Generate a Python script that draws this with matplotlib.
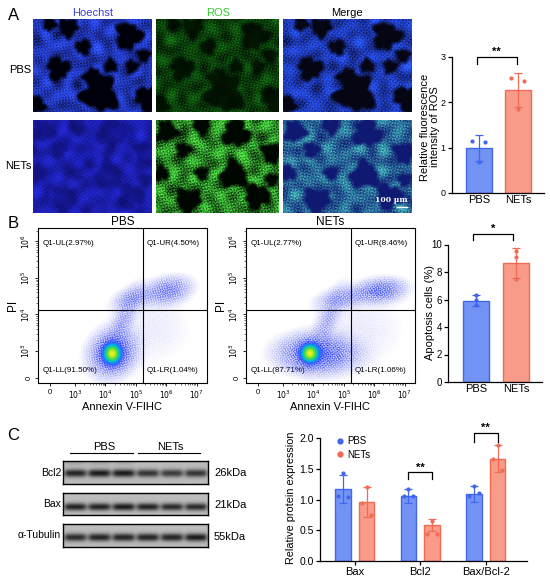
import numpy as np
import matplotlib
matplotlib.use("Agg")
import matplotlib.pyplot as plt
from matplotlib.colors import LinearSegmentedColormap
from matplotlib.lines import Line2D

plt.rcParams['font.family'] = ['Liberation Sans', 'DejaVu Sans']

W, H = 550, 584

# ---------------- data ----------------
GROUPS = ['PBS', 'NETs']

ros_mean = [1.0, 2.27]
ros_sd = [0.29, 0.38]
ros_points = [[1.15, 1.13, 0.68], [2.54, 2.47, 1.85]]

apop_mean = [5.9, 8.65]
apop_sd = [0.4, 1.12]
apop_points = [[6.33, 5.96, 5.6], [9.5, 9.1, 7.5]]

prot_groups = ['Bax', 'Bcl2', 'Bax/Bcl-2']
prot_pbs_mean = [1.17, 1.06, 1.09]
prot_pbs_sd = [0.23, 0.11, 0.13]
prot_pbs_points = [[1.43, 1.05, 1.04], [1.17, 1.05, 1.06], [1.22, 1.06, 1.10]]
prot_nets_mean = [0.96, 0.58, 1.66]
prot_nets_sd = [0.24, 0.10, 0.22]
prot_nets_points = [[1.21, 0.94, 0.75], [0.65, 0.44, 0.44], [1.89, 1.66, 1.48]]

pbs_quad = ['Q1-UL(2.97%)', 'Q1-UR(4.50%)', 'Q1-LL(91.50%)', 'Q1-LR(1.04%)']
nets_quad = ['Q1-UL(2.77%)', 'Q1-UR(8.46%)', 'Q1-LL(87.71%)', 'Q1-LR(1.06%)']

# flow populations: (log annexin, log PI, spread x, spread y, angle, peak)
pbs_clusters = [(4.22, 2.92, 0.17, 0.16, 0, 1.0),
                (4.25, 2.95, 0.38, 0.30, 20, 0.14),
                (4.55, 3.75, 0.55, 0.16, 63, 0.035),
                (4.95, 4.45, 0.35, 0.15, 15, 0.05),
                (6.05, 4.65, 0.38, 0.18, 10, 0.07),
                (5.6, 3.6, 0.8, 0.6, 0, 0.004)]
nets_clusters = [(3.88, 2.93, 0.17, 0.15, 0, 1.0),
                 (4.15, 2.92, 0.62, 0.26, 0, 0.14),
                 (4.45, 3.80, 0.55, 0.16, 63, 0.03),
                 (5.00, 4.45, 0.45, 0.15, 10, 0.045),
                 (6.20, 4.65, 0.40, 0.16, 5, 0.09),
                 (5.6, 3.6, 0.9, 0.6, 0, 0.004)]

# western blot band strength per lane (3 PBS + 3 NETs)
blot_rows = ['Bcl2', 'Bax', 'α-Tubulin']
blot_kda = ['26kDa', '21kDa', '55kDa']
bcl2_bands = [0.95, 1.0, 1.0, 0.85, 0.8, 0.85]
bax_bands = [0.95, 0.95, 1.0, 0.95, 0.9, 0.9]
tub_bands = [0.9, 0.95, 0.95, 0.95, 0.95, 1.0]

# dark areas in the micrographs (x, y, r as fraction of image)
pbs_holes = [(0.295, 0.09, 0.08), (0.14, 0.05, 0.05), (0.80, 0.18, 0.12),
             (0.42, 0.30, 0.06), (0.21, 0.53, 0.10), (0.56, 0.80, 0.17),
             (0.49, 0.62, 0.07), (0.65, 0.50, 0.05), (0.83, 0.51, 0.05),
             (0.96, 0.85, 0.11), (0.03, 0.92, 0.07), (0.93, 0.39, 0.05)]
nets_holes = [(0.09, 0.12, 0.09), (0.37, 0.06, 0.07), (0.65, 0.14, 0.12),
              (0.22, 0.32, 0.06), (0.94, 0.35, 0.09), (0.63, 0.59, 0.12),
              (0.37, 0.57, 0.05), (0.26, 0.86, 0.11), (0.82, 0.82, 0.11),
              (0.94, 0.64, 0.05), (0.04, 0.57, 0.06)]

BLUE_F, BLUE_E = '#7393f4', '#4066ee'
RED_F, RED_E = '#f89b89', '#f06a54'


def px_axes(fig, l, t, r, b):
    return fig.add_axes([l / W, 1 - b / H, (r - l) / W, (b - t) / H])


def wave_noise(h, w, scale, shift):
    yy, xx = np.mgrid[0:h, 0:w]
    n = np.zeros((h, w))
    for k in range(11):
        a = k * np.pi / 11 + 0.37 * shift
        f = scale * (0.8 + 0.45 * ((k * 7) % 5) / 4)
        n += np.sin(f * (xx * np.cos(a) + yy * np.sin(a)) + k * 1.73 + shift * 2.1)
    return n / np.sqrt(11 / 2)


fig = plt.figure(figsize=(W / 100, H / 100), dpi=100)
ov = fig.add_axes([0, 0, 1, 1])
ov.set_xlim(0, W)
ov.set_ylim(H, 0)
ov.axis('off')


# ---------------- A: micrographs ----------------
def micrograph(holes, base, dark, mean, fine_amp, mottle_amp, hole_depth, shift):
    h, w = 188, 246
    yy, xx = np.mgrid[0:h, 0:w]
    fy, fx = yy / h, xx / w
    mask = np.ones((h, w))
    for cx, cy, r in holes:
        dx = (fx - cx) * w / h
        dy = fy - cy
        d = np.sqrt(dx ** 2 + dy ** 2)
        th = np.arctan2(dy, dx)
        rr = r * (1 + 0.2 * np.sin(3 * th + cx * 10) + 0.12 * np.sin(5 * th + cy * 7)
                  + 0.08 * np.sin(8 * th + cx * 4))
        mask *= np.clip((d - rr) / 0.05, 0, 1)
    mask = 1 - hole_depth * (1 - mask)
    fine = wave_noise(h, w, 1.25, shift)
    mottle = wave_noise(h, w, 0.16, shift + 5)
    t = np.clip(mean + fine_amp * fine + mottle_amp * mottle, 0, 1.5)
    base = np.array(base)
    dark = np.array(dark)
    img = dark + (base - dark) * (mask * t)[..., None]
    return np.clip(img, 0, 1)


cols = [(33, 152), (156, 279), (283, 412)]
rows = [(19, 112), (120, 213)]
specs = [
    [(pbs_holes, (0.18, 0.30, 1.0), (0.0, 0.0, 0.04), 0.72, 0.22, 0.12, 1.0),
     (pbs_holes, (0.10, 0.55, 0.10), (0.0, 0.03, 0.0), 0.42, 0.22, 0.10, 0.8),
     (pbs_holes, (0.16, 0.32, 1.0), (0.02, 0.02, 0.08), 0.70, 0.24, 0.12, 1.0)],
    [(nets_holes, (0.14, 0.16, 0.85), (0.05, 0.05, 0.40), 0.62, 0.20, 0.14, 0.5),
     (nets_holes, (0.28, 0.85, 0.25), (0.0, 0.03, 0.0), 0.62, 0.32, 0.16, 1.0),
     (nets_holes, (0.26, 0.68, 0.72), (0.06, 0.10, 0.45), 0.52, 0.30, 0.16, 1.0)],
]
for ri, (t, b) in enumerate(rows):
    for ci, (l, r) in enumerate(cols):
        holes, base, dark, mean, fa, ma, hd = specs[ri][ci]
        ax = px_axes(fig, l, t, r, b)
        ax.imshow(micrograph(holes, base, dark, mean, fa, ma, hd, ri * 3 + ci),
                  aspect='auto', interpolation='bilinear')
        ax.set_xticks([])
        ax.set_yticks([])
        for s in ax.spines.values():
            s.set_visible(False)
        if ri == 1 and ci == 2:
            ax.text(0.84, 0.14, '100 μm', transform=ax.transAxes, color='white',
                    fontsize=5.5, ha='center', va='center', fontweight='bold',
                    family='DejaVu Serif')
            ax.plot([0.88, 0.96], [0.06, 0.06], color='white', lw=1,
                    transform=ax.transAxes)

ov.text(13.5, 15, 'A', fontsize=12, ha='center', va='center')
ov.text(93, 13, 'Hoechst', fontsize=8, color='#3c3ce0', ha='center', va='center')
ov.text(218, 13, 'ROS', fontsize=8, color='#33cc33', ha='center', va='center')
ov.text(347, 13, 'Merge', fontsize=8, ha='center', va='center')
ov.text(20, 70, 'PBS', fontsize=8, ha='center', va='center')
ov.text(18.5, 166, 'NETs', fontsize=8, ha='center', va='center')


# ---------------- bar helpers ----------------
def style_bar_axes(ax, ysize=7):
    for s in ['top', 'right']:
        ax.spines[s].set_visible(False)
    for s in ['left', 'bottom']:
        ax.spines[s].set_linewidth(0.9)
    ax.tick_params(axis='y', length=3, width=0.9, labelsize=ysize, pad=1.5)
    ax.tick_params(axis='x', length=3, width=0.9, labelsize=8, pad=1.5)


def draw_bars(ax, xs, means, sds, points, fill, edge, width, jitter):
    ax.bar(xs, means, width=width, color=fill, edgecolor=edge, linewidth=1, zorder=2)
    ax.errorbar(xs, means, yerr=sds, fmt='none', ecolor=edge, elinewidth=0.9,
                capsize=3, capthick=0.9, zorder=3)
    for x, pts in zip(xs, points):
        ax.scatter([x + j * width for j in jitter], pts, s=9, color=edge,
                   zorder=4, linewidths=0)


def bracket(ax, x1, x2, y, h, txt):
    ax.plot([x1, x1, x2, x2], [y - h, y, y, y - h], color='k', lw=0.9, clip_on=False)
    ax.text((x1 + x2) / 2, y, txt, ha='center', va='bottom', fontsize=8,
            fontweight='bold', clip_on=False)


# ROS bar chart
ax = px_axes(fig, 452, 57, 544, 193)
draw_bars(ax, [0], ros_mean[:1], ros_sd[:1], ros_points[:1], BLUE_F, BLUE_E, 0.67,
          [-0.25, 0.25, 0.0])
draw_bars(ax, [1], ros_mean[1:], ros_sd[1:], ros_points[1:], RED_F, RED_E, 0.67,
          [-0.25, 0.25, 0.0])
ax.set_xlim(-0.69, 1.67)
ax.set_ylim(0, 3)
ax.set_yticks([0, 1, 2, 3])
ax.set_xticks([0, 1])
ax.set_xticklabels(GROUPS)
style_bar_axes(ax, 6.5)
ax.tick_params(axis='x', length=0)
bracket(ax, -0.05, 0.97, 3.0, 0.15, '**')
ov.text(430, 127, 'Relative fluorescence\nintensity of ROS', rotation=90,
        fontsize=8, ha='center', va='center', linespacing=1.1)

# ---------------- B: flow cytometry ----------------
FLOW_CMAP = LinearSegmentedColormap.from_list(
    'flow', [(0, '#2828d8'), (0.55, '#1530ff'), (0.72, '#00b8e8'),
             (0.86, '#3fdc3f'), (1.0, '#f2ef20')])
U0, U1, V0, V1 = 1.78, 7.34, 2.12, 6.37


def flow_panel(ax, clusters, quad, title, shift):
    nu, nv = 340, 300
    u = np.linspace(U0, U1, nu)
    v = np.linspace(V0, V1, nv)
    U, V = np.meshgrid(u, v)
    z = np.zeros_like(U)
    for cu, cv, su, sv, ang, amp in clusters:
        th = np.deg2rad(ang)
        du, dv = U - cu, V - cv
        a = du * np.cos(th) + dv * np.sin(th)
        b = -du * np.sin(th) + dv * np.cos(th)
        z += amp * np.exp(-0.5 * ((a / su) ** 2 + (b / sv) ** 2))
    c = np.clip(z / z.max(), 0, 1) ** 0.35
    rgba = FLOW_CMAP(c)
    speck = np.clip(0.55 + 0.6 * wave_noise(nv, nu, 1.6, shift), 0, 1)
    alpha = np.clip((c - 0.09) * 3.2, 0, 1)
    dense = np.clip((c - 0.42) * 4, 0, 1)
    rgba[..., 3] = alpha * (dense + (1 - dense) * speck)
    ax.imshow(rgba, extent=(U0, U1, V0, V1), origin='lower', aspect='auto',
              interpolation='bilinear', zorder=2)
    ax.set_xlim(U0, U1)
    ax.set_ylim(V0, V1)
    ax.axvline(5.24, color='k', lw=0.8, zorder=3)
    ax.axhline(4.13, color='k', lw=0.8, zorder=3)
    ax.set_xticks([2.18, 3, 4, 5, 6, 7])
    ax.set_xticklabels(['0', '$10^3$', '$10^4$', '$10^5$', '$10^6$', '$10^7$'])
    ax.set_yticks([2.25, 3, 4, 5, 6])
    ax.set_yticklabels(['0', '$10^3$', '$10^4$', '$10^5$', '$10^6$'], rotation=90,
                       va='center')
    minor = [n + np.log10(k) for n in range(3, 7) for k in range(2, 10)]
    ax.set_xticks(minor, minor=True)
    ax.set_yticks([m for m in minor if m < 6.37], minor=True)
    ax.tick_params(which='major', length=2.5, width=0.6, labelsize=5.5, pad=1.5)
    ax.tick_params(which='minor', length=1.5, width=0.4)
    for s in ax.spines.values():
        s.set_linewidth(0.8)
    ax.set_xlabel('Annexin V-FIHC', fontsize=8, labelpad=1)
    ax.set_ylabel('PI', fontsize=8.5, labelpad=1)
    ax.set_title(title, fontsize=8.5, pad=2)
    ax.text(0.025, 0.89, quad[0], transform=ax.transAxes, fontsize=5.8, zorder=1)
    ax.text(0.645, 0.89, quad[1], transform=ax.transAxes, fontsize=5.8, zorder=1)
    ax.text(0.025, 0.07, quad[2], transform=ax.transAxes, fontsize=5.8, zorder=1)
    ax.text(0.645, 0.07, quad[3], transform=ax.transAxes, fontsize=5.8, zorder=1)


flow_panel(px_axes(fig, 38, 228, 207, 383), pbs_clusters, pbs_quad, 'PBS', 1)
flow_panel(px_axes(fig, 246, 228, 415, 383), nets_clusters, nets_quad, 'NETs', 2)
ov.text(13.5, 224, 'B', fontsize=12, ha='center', va='center')

# apoptosis bar chart
ax = px_axes(fig, 448, 244.5, 542, 382)
draw_bars(ax, [0], apop_mean[:1], apop_sd[:1], apop_points[:1], BLUE_F, BLUE_E, 0.65,
          [0, 0, 0])
draw_bars(ax, [1], apop_mean[1:], apop_sd[1:], apop_points[1:], RED_F, RED_E, 0.65,
          [0, 0, 0])
ax.set_xlim(-0.7, 1.65)
ax.set_ylim(0, 10)
ax.set_yticks([0, 2, 4, 6, 8, 10])
ax.set_xticks([0, 1])
ax.set_xticklabels(GROUPS)
style_bar_axes(ax, 7)
ax.tick_params(axis='x', length=0)
bracket(ax, -0.07, 0.93, 10.8, 0.5, '*')
ov.text(430, 313, 'Apoptosis cells (%)', rotation=90, fontsize=8,
        ha='center', va='center')

# ---------------- C: western blot ----------------
ov.text(13.5, 435, 'C', fontsize=12, ha='center', va='center')
ov.text(104, 447, 'PBS', fontsize=8, ha='center', va='center')
ov.text(170, 447, 'NETs', fontsize=8, ha='center', va='center')
ov.plot([70, 133], [453, 453], color='k', lw=0.8)
ov.plot([138, 200], [453, 453], color='k', lw=0.8)


def blot_image(bands, yc, upper=None):
    h, w = 46, 290
    yy, xx = np.mgrid[0:h, 0:w]
    fy, fx = yy / h, xx / w
    img = np.full((h, w), 0.74)
    for i, s in enumerate(bands):
        cx = (i + 0.5) / 6
        hp = 1 / (1 + np.exp(-(0.072 - np.abs(fx - cx)) / 0.01))
        vp = np.exp(-0.5 * ((fy - yc) / 0.12) ** 2)
        img -= 0.64 * s * hp * vp
        if upper is not None:
            vp2 = np.exp(-0.5 * ((fy - 0.08) / 0.06) ** 2)
            img -= 0.4 * upper[i] * hp * vp2
    img += 0.03 * np.sin(xx * 0.9) * np.sin(yy * 1.3)
    return np.clip(img, 0, 1)


blot_boxes = [(461, 484), (493, 515), (524, 547)]
blot_imgs = [blot_image(bcl2_bands, 0.52, [0.25, 0.25, 0.2, 0.05, 0.05, 0.05]),
             blot_image(bax_bands, 0.62),
             blot_image(tub_bands, 0.57)]
for (t, b), img, name, kda in zip(blot_boxes, blot_imgs, blot_rows, blot_kda):
    ax = px_axes(fig, 63, t, 208, b)
    ax.imshow(img, cmap='gray', vmin=0, vmax=1, aspect='auto', interpolation='bilinear')
    ax.set_xticks([])
    ax.set_yticks([])
    for s in ax.spines.values():
        s.set_linewidth(1.0)
    ov.text(61, (t + b) / 2, name, fontsize=7.5, ha='right', va='center')
    ov.text(214, (t + b) / 2 + 1, kda, fontsize=8, ha='left', va='center')

# protein expression chart
ax = px_axes(fig, 320, 438, 527, 561)
gx = np.arange(len(prot_groups))
draw_bars(ax, gx - 0.18, prot_pbs_mean, prot_pbs_sd, prot_pbs_points, BLUE_F, BLUE_E,
          0.24, [0, -0.3, 0.3])
draw_bars(ax, gx + 0.18, prot_nets_mean, prot_nets_sd, prot_nets_points, RED_F, RED_E,
          0.24, [0, -0.3, 0.3])
ax.set_xlim(-0.53, 2.63)
ax.set_ylim(0, 2)
ax.set_yticks([0, 0.5, 1.0, 1.5, 2.0])
ax.set_yticklabels(['0.0', '0.5', '1.0', '1.5', '2.0'])
ax.set_xticks(gx)
ax.set_xticklabels(prot_groups)
style_bar_axes(ax, 7.5)
bracket(ax, 1 - 0.18, 1 + 0.18, 1.44, 0.11, '**')
bracket(ax, 2 - 0.18, 2 + 0.18, 2.08, 0.15, '**')
handles = [Line2D([], [], marker='o', ls='none', color=BLUE_E, markersize=3.5, label='PBS'),
           Line2D([], [], marker='o', ls='none', color=RED_E, markersize=3.5, label='NETs')]
ax.legend(handles=handles, loc='upper left', bbox_to_anchor=(0.04, 1.07), frameon=False,
          fontsize=7, handletextpad=0.2, borderpad=0.2, labelspacing=0.35,
          handlelength=1.0)
ov.text(291, 498, 'Relative protein expression', rotation=90, fontsize=7.8,
        ha='center', va='center')

fig.savefig('out.png', dpi=100)
